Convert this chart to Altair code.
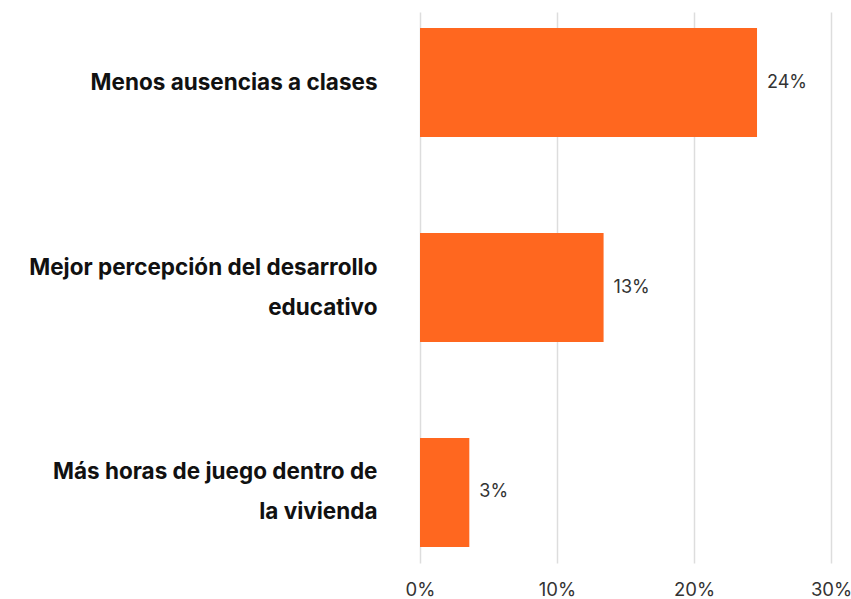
import altair as alt
import pandas as pd

categories = [
    "Menos ausencias a clases",
    "Mejor percepción del desarrollo|educativo",
    "Más horas de juego dentro de|la vivienda",
]
values = [24.6, 13.4, 3.6]
value_labels = ["24%", "13%", "3%"]
x_ticks = [0, 10, 20, 30]

df = pd.DataFrame({"cat": categories, "val": values, "lab": value_labels})

y_enc = alt.Y(
    "cat:N",
    sort=categories,
    title=None,
    scale=alt.Scale(paddingInner=0.468, paddingOuter=0.078),
    axis=alt.Axis(
        labelExpr="split(datum.label, '|')",
        labelFont="Inter",
        labelFontWeight="bold",
        labelFontSize=22.5,
        labelColor="#111111",
        labelPadding=43,
        labelLimit=420,
        labelLineHeight=40,
        labelOffset={
            "condition": {"test": "indexof(datum.value, '|') >= 0", "value": -20},
            "value": 0,
        },
        domain=False,
        ticks=False,
        grid=False,
    ),
)

x_enc = alt.X(
    "val:Q",
    title=None,
    scale=alt.Scale(domain=[0, 30], nice=False),
    axis=alt.Axis(
        values=x_ticks,
        labelExpr="datum.value + '%'",
        labelFont="Inter",
        labelFontSize=18.5,
        labelColor="#333333",
        labelPadding=17,
        labelFlush=False,
        domain=False,
        ticks=False,
        grid=True,
        gridColor="#dddddd",
        gridWidth=1.5,
    ),
)

base = alt.Chart(df).encode(x=x_enc, y=y_enc)

bars = base.mark_bar(color="#FF671F")

text = base.mark_text(
    align="left", baseline="middle", dx=10, font="Inter", fontSize=18, color="#333333"
).encode(text="lab:N")

chart = (
    (bars + text)
    .properties(
        width=411,
        height=551,
        padding={"left": 420, "top": 12, "right": 20, "bottom": 36},
        autosize=alt.AutoSizeParams(type="none"),
        background="white",
    )
    .configure_view(strokeWidth=0, stroke="transparent")
    .configure_axis(domain=False, ticks=False)
)

chart.save("out.html", embed_options={"renderer": "svg", "actions": False})
